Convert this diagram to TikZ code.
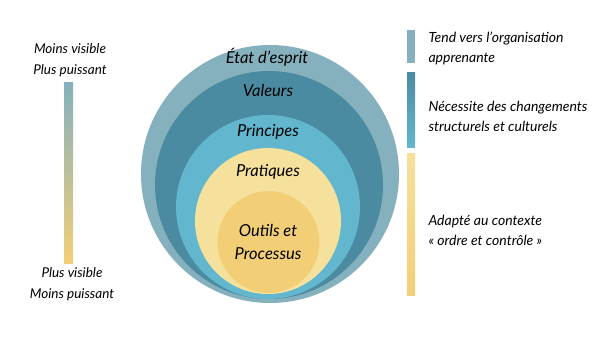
\documentclass[tikz,border=0pt]{standalone}
\usepackage{fontspec}
\setmainfont{Lato}
\usetikzlibrary{positioning}
\definecolor{cMind}{HTML}{85B0BD}
\definecolor{cValue}{HTML}{4B8BA1}
\definecolor{cPrinc}{HTML}{62B7CE}
\definecolor{cPract}{HTML}{F5E19C}
\definecolor{cTool}{HTML}{F2CF77}
\begin{document}
\begin{tikzpicture}[x=1pt, y=-1pt,
    ring/.style={font=\itshape\fontsize{16.5}{23}\selectfont, align=center},
    note/.style={font=\itshape\fontsize{14}{20}\selectfont, align=left, anchor=west},
    side/.style={font=\itshape\fontsize{13.5}{21}\selectfont, align=center}]
    \useasboundingbox (0,0) rectangle (600,345);
    % nested circles
    \fill[cMind] (270,174) circle (129);
    \fill[cValue] (269,185) circle (114);
    \fill[cPrinc] (268,207) circle (92);
    \fill[cPract] (268,221) circle (73);
    \fill[cTool] (268.5,242) circle (51);
    \node[ring] (mind) at (267,57) {État d'esprit};
    \node[ring] (value) at (268,90) {Valeurs};
    \node[ring] (princ) at (268,132) {Principes};
    \node[ring] (pract) at (268,172) {Pratiques};
    \node[ring] (tool) at (268,241.5) {Outils et\\Processus};
    % left scale
    \shade[top color=cMind, bottom color=cTool] (64,83) rectangle (73,263);
    \node[side] (less) at (70,60) {Moins visible\\Plus puissant};
    \node[side] (more) at (72,284) {Plus visible\\Moins puissant};
    % right legend
    \fill[cMind] (407,30) rectangle (415,63);
    \shade[top color=cValue, bottom color=cPrinc] (407,73) rectangle (415,147);
    \shade[top color=cPract, bottom color=cTool] (407,153) rectangle (415,295);
    \node[note] (learn) at (425,48) {Tend vers l'organisation\\apprenante};
    \node[note] (change) at (425,116) {Nécessite des changements\\structurels et culturels};
    \node[note] (order) at (425,230.5) {Adapté au contexte\\« ordre et contrôle »};
\end{tikzpicture}
\end{document}
